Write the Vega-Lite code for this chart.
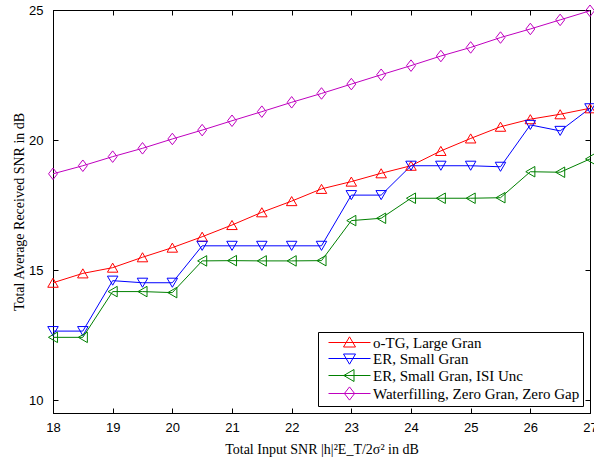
{
  "$schema": "https://vega.github.io/schema/vega-lite/v6.json",
  "width": 537,
  "height": 403,
  "autosize": {"type": "none"},
  "padding": {"left": 53, "top": 10, "right": 4, "bottom": 48},
  "background": "white",
  "config": {
    "view": {"stroke": "black", "strokeWidth": 1},
    "axis": {
      "grid": false,
      "domainColor": "black",
      "domainWidth": 1,
      "tickColor": "black",
      "tickSize": -5,
      "labelFont": "Liberation Sans",
      "labelFontSize": 13,
      "labelColor": "black",
      "titleFont": "Liberation Serif",
      "titleFontSize": 14,
      "titleFontWeight": "normal",
      "titleColor": "black"
    }
  },
  "data": {
    "values": [
      {"snr": 18, "val": 14.51, "series": "o-TG, Large Gran"},
      {"snr": 18.5, "val": 14.87, "series": "o-TG, Large Gran"},
      {"snr": 19, "val": 15.09, "series": "o-TG, Large Gran"},
      {"snr": 19.5, "val": 15.49, "series": "o-TG, Large Gran"},
      {"snr": 20, "val": 15.86, "series": "o-TG, Large Gran"},
      {"snr": 20.5, "val": 16.28, "series": "o-TG, Large Gran"},
      {"snr": 21, "val": 16.73, "series": "o-TG, Large Gran"},
      {"snr": 21.5, "val": 17.22, "series": "o-TG, Large Gran"},
      {"snr": 22, "val": 17.65, "series": "o-TG, Large Gran"},
      {"snr": 22.5, "val": 18.12, "series": "o-TG, Large Gran"},
      {"snr": 23, "val": 18.40, "series": "o-TG, Large Gran"},
      {"snr": 23.5, "val": 18.72, "series": "o-TG, Large Gran"},
      {"snr": 24, "val": 19.01, "series": "o-TG, Large Gran"},
      {"snr": 24.5, "val": 19.58, "series": "o-TG, Large Gran"},
      {"snr": 25, "val": 20.06, "series": "o-TG, Large Gran"},
      {"snr": 25.5, "val": 20.51, "series": "o-TG, Large Gran"},
      {"snr": 26, "val": 20.80, "series": "o-TG, Large Gran"},
      {"snr": 26.5, "val": 20.99, "series": "o-TG, Large Gran"},
      {"snr": 27, "val": 21.22, "series": "o-TG, Large Gran"},
      {"snr": 18, "val": 12.65, "series": "ER, Small Gran"},
      {"snr": 18.5, "val": 12.65, "series": "ER, Small Gran"},
      {"snr": 19, "val": 14.59, "series": "ER, Small Gran"},
      {"snr": 19.5, "val": 14.51, "series": "ER, Small Gran"},
      {"snr": 20, "val": 14.51, "series": "ER, Small Gran"},
      {"snr": 20.5, "val": 15.93, "series": "ER, Small Gran"},
      {"snr": 21, "val": 15.93, "series": "ER, Small Gran"},
      {"snr": 21.5, "val": 15.93, "series": "ER, Small Gran"},
      {"snr": 22, "val": 15.93, "series": "ER, Small Gran"},
      {"snr": 22.5, "val": 15.93, "series": "ER, Small Gran"},
      {"snr": 23, "val": 17.88, "series": "ER, Small Gran"},
      {"snr": 23.5, "val": 17.88, "series": "ER, Small Gran"},
      {"snr": 24, "val": 19.01, "series": "ER, Small Gran"},
      {"snr": 24.5, "val": 19.01, "series": "ER, Small Gran"},
      {"snr": 25, "val": 19.01, "series": "ER, Small Gran"},
      {"snr": 25.5, "val": 18.97, "series": "ER, Small Gran"},
      {"snr": 26, "val": 20.58, "series": "ER, Small Gran"},
      {"snr": 26.5, "val": 20.35, "series": "ER, Small Gran"},
      {"snr": 27, "val": 21.22, "series": "ER, Small Gran"},
      {"snr": 18, "val": 12.41, "series": "ER, Small Gran, ISI Unc"},
      {"snr": 18.5, "val": 12.41, "series": "ER, Small Gran, ISI Unc"},
      {"snr": 19, "val": 14.17, "series": "ER, Small Gran, ISI Unc"},
      {"snr": 19.5, "val": 14.17, "series": "ER, Small Gran, ISI Unc"},
      {"snr": 20, "val": 14.13, "series": "ER, Small Gran, ISI Unc"},
      {"snr": 20.5, "val": 15.35, "series": "ER, Small Gran, ISI Unc"},
      {"snr": 21, "val": 15.36, "series": "ER, Small Gran, ISI Unc"},
      {"snr": 21.5, "val": 15.35, "series": "ER, Small Gran, ISI Unc"},
      {"snr": 22, "val": 15.35, "series": "ER, Small Gran, ISI Unc"},
      {"snr": 22.5, "val": 15.36, "series": "ER, Small Gran, ISI Unc"},
      {"snr": 23, "val": 16.90, "series": "ER, Small Gran, ISI Unc"},
      {"snr": 23.5, "val": 16.99, "series": "ER, Small Gran, ISI Unc"},
      {"snr": 24, "val": 17.76, "series": "ER, Small Gran, ISI Unc"},
      {"snr": 24.5, "val": 17.76, "series": "ER, Small Gran, ISI Unc"},
      {"snr": 25, "val": 17.76, "series": "ER, Small Gran, ISI Unc"},
      {"snr": 25.5, "val": 17.78, "series": "ER, Small Gran, ISI Unc"},
      {"snr": 26, "val": 18.78, "series": "ER, Small Gran, ISI Unc"},
      {"snr": 26.5, "val": 18.76, "series": "ER, Small Gran, ISI Unc"},
      {"snr": 27, "val": 19.27, "series": "ER, Small Gran, ISI Unc"},
      {"snr": 18, "val": 18.70, "series": "Waterfilling, Zero Gran, Zero Gap"},
      {"snr": 18.5, "val": 19.01, "series": "Waterfilling, Zero Gran, Zero Gap"},
      {"snr": 19, "val": 19.36, "series": "Waterfilling, Zero Gran, Zero Gap"},
      {"snr": 19.5, "val": 19.68, "series": "Waterfilling, Zero Gran, Zero Gap"},
      {"snr": 20, "val": 20.04, "series": "Waterfilling, Zero Gran, Zero Gap"},
      {"snr": 20.5, "val": 20.38, "series": "Waterfilling, Zero Gran, Zero Gap"},
      {"snr": 21, "val": 20.74, "series": "Waterfilling, Zero Gran, Zero Gap"},
      {"snr": 21.5, "val": 21.09, "series": "Waterfilling, Zero Gran, Zero Gap"},
      {"snr": 22, "val": 21.45, "series": "Waterfilling, Zero Gran, Zero Gap"},
      {"snr": 22.5, "val": 21.79, "series": "Waterfilling, Zero Gran, Zero Gap"},
      {"snr": 23, "val": 22.15, "series": "Waterfilling, Zero Gran, Zero Gap"},
      {"snr": 23.5, "val": 22.51, "series": "Waterfilling, Zero Gran, Zero Gap"},
      {"snr": 24, "val": 22.86, "series": "Waterfilling, Zero Gran, Zero Gap"},
      {"snr": 24.5, "val": 23.23, "series": "Waterfilling, Zero Gran, Zero Gap"},
      {"snr": 25, "val": 23.56, "series": "Waterfilling, Zero Gran, Zero Gap"},
      {"snr": 25.5, "val": 23.94, "series": "Waterfilling, Zero Gran, Zero Gap"},
      {"snr": 26, "val": 24.27, "series": "Waterfilling, Zero Gran, Zero Gap"},
      {"snr": 26.5, "val": 24.62, "series": "Waterfilling, Zero Gran, Zero Gap"},
      {"snr": 27, "val": 24.97, "series": "Waterfilling, Zero Gran, Zero Gap"}
    ]
  },
  "layer": [
    {
      "mark": {"type": "point", "filled": false, "size": 110, "strokeWidth": 1, "opacity": 0},
      "encoding": {
        "x": {"field": "snr", "type": "quantitative", "scale": {"domain": [18, 27], "nice": false, "zero": false},
          "axis": {"orient": "bottom", "values": [18,19,20,21,22,23,24,25,26,27], "labelPadding": 13, "title": "Total Input SNR |h|²E_T/2σ² in dB", "titlePadding": 8, "labelFlush": false}},
        "y": {"field": "val", "type": "quantitative", "scale": {"domain": [9.5, 25], "nice": false, "zero": false},
          "axis": {"orient": "left", "values": [10, 15, 20, 25], "labelPadding": 15, "title": "Total Average Received SNR in dB", "titlePadding": 2}},
        "color": {"field": "series", "type": "nominal",
          "scale": {"domain": ["o-TG, Large Gran", "ER, Small Gran", "ER, Small Gran, ISI Unc", "Waterfilling, Zero Gran, Zero Gap"], "range": ["#ff0000", "#0000ff", "#008000", "#bf00bf"]},
          "legend": {"title": null, "orient": "bottom-right", "offset": 7, "strokeColor": "black", "fillColor": "white", "padding": 3, "symbolOffset": 21, "labelOffset": 16, "rowPadding": 0, "labelFont": "Liberation Serif", "labelFontSize": 15, "labelLimit": 400, "labelColor": "black", "symbolSize": 144, "symbolStrokeWidth": 1, "symbolOpacity": 1}},
        "shape": {"field": "series", "type": "nominal",
          "scale": {"domain": ["o-TG, Large Gran", "ER, Small Gran", "ER, Small Gran, ISI Unc", "Waterfilling, Zero Gran, Zero Gap"],
            "range": ["M-3.5,0H3.5M0,-0.95L1,0.75L-1,0.75Z", "M-3.5,0H3.5M0,0.95L1,-0.75L-1,-0.75Z", "M-3.5,0H3.5M-0.95,0L0.75,-1L0.75,1Z", "M-3.5,0H3.5M0,-1.1L0.85,0L0,1.1L-0.85,0Z"]},
          "legend": {"title": null, "orient": "bottom-right", "offset": 7, "strokeColor": "black", "fillColor": "white", "padding": 3, "symbolOffset": 21, "labelOffset": 16, "rowPadding": 0, "labelFont": "Liberation Serif", "labelFontSize": 15, "labelLimit": 400, "labelColor": "black", "symbolSize": 144, "symbolStrokeWidth": 1, "symbolOpacity": 1}}
      }
    },
    {
      "mark": {"type": "line", "strokeWidth": 1},
      "encoding": {
        "x": {"field": "snr", "type": "quantitative", "axis": {"orient": "top", "values": [18,19,20,21,22,23,24,25,26,27], "labels": false, "title": null}},
        "y": {"field": "val", "type": "quantitative", "axis": {"orient": "right", "values": [10, 15, 20, 25], "labels": false, "title": null}},
        "color": {"field": "series", "type": "nominal", "legend": null}
      }
    },
    {
      "transform": [{"filter": "datum.series === 'o-TG, Large Gran'"}],
      "mark": {"type": "point", "shape": "triangle-up", "filled": false, "size": 110, "strokeWidth": 1, "opacity": 1},
      "encoding": {
        "x": {"field": "snr", "type": "quantitative", "axis": null},
        "y": {"field": "val", "type": "quantitative", "axis": null},
        "color": {"field": "series", "type": "nominal", "legend": null}
      }
    },
    {
      "transform": [{"filter": "datum.series === 'ER, Small Gran'"}],
      "mark": {"type": "point", "shape": "triangle-down", "filled": false, "size": 110, "strokeWidth": 1, "opacity": 1},
      "encoding": {
        "x": {"field": "snr", "type": "quantitative", "axis": null},
        "y": {"field": "val", "type": "quantitative", "axis": null},
        "color": {"field": "series", "type": "nominal", "legend": null}
      }
    },
    {
      "transform": [{"filter": "datum.series === 'ER, Small Gran, ISI Unc'"}],
      "mark": {"type": "point", "shape": "triangle-left", "filled": false, "size": 110, "strokeWidth": 1, "opacity": 1},
      "encoding": {
        "x": {"field": "snr", "type": "quantitative", "axis": null},
        "y": {"field": "val", "type": "quantitative", "axis": null},
        "color": {"field": "series", "type": "nominal", "legend": null}
      }
    },
    {
      "transform": [{"filter": "datum.series === 'Waterfilling, Zero Gran, Zero Gap'"}],
      "mark": {"type": "point", "shape": "M0,-1.1L0.85,0L0,1.1L-0.85,0Z", "filled": false, "size": 110, "strokeWidth": 1, "opacity": 1},
      "encoding": {
        "x": {"field": "snr", "type": "quantitative", "axis": null},
        "y": {"field": "val", "type": "quantitative", "axis": null},
        "color": {"field": "series", "type": "nominal", "legend": null}
      }
    }
  ],
  "resolve": {"axis": {"x": "independent", "y": "independent"}}
}
